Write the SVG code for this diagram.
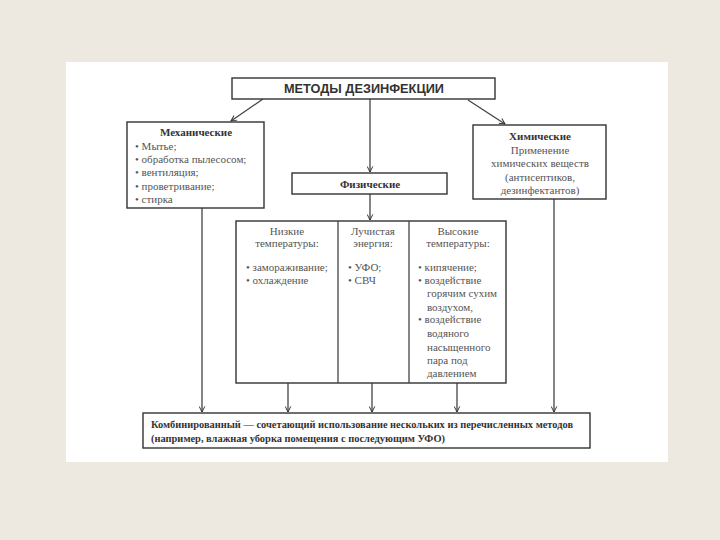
<svg xmlns="http://www.w3.org/2000/svg" width="720" height="540" viewBox="0 0 720 540">
<defs>
<marker id="ah" viewBox="0 0 10 10" refX="9" refY="5" markerWidth="7" markerHeight="7" orient="auto" markerUnits="userSpaceOnUse">
<path d="M1,1 L9,5 L1,9" fill="none" stroke="#333" stroke-width="1.4"/>
</marker>
</defs>
<style>
.box{fill:#fff;stroke:#333;stroke-width:1.4}
.ln{stroke:#444;stroke-width:1.3;fill:none}
.t{font-family:"Liberation Serif","DejaVu Serif",serif;font-size:11px;fill:#555}
.b{font-family:"Liberation Serif","DejaVu Serif",serif;font-size:11px;font-weight:bold;fill:#333}
.c{text-anchor:middle}
.h{font-family:"Liberation Sans",Arial,sans-serif;font-size:12.5px;font-weight:bold;fill:#333}
</style>
<rect x="0" y="0" width="720" height="540" fill="#ede9e0"/>
<rect x="66" y="62" width="602" height="400" fill="#fff"/>

<g id="connectors">
<line class="ln" x1="263" y1="99" x2="231" y2="121" marker-end="url(#ah)"/>
<line class="ln" x1="370" y1="99" x2="370" y2="172" marker-end="url(#ah)"/>
<line class="ln" x1="468" y1="100" x2="505" y2="124" marker-end="url(#ah)"/>
<line class="ln" x1="370" y1="194" x2="370" y2="220" marker-end="url(#ah)"/>
<line class="ln" x1="202" y1="208" x2="202" y2="412" marker-end="url(#ah)"/>
<line class="ln" x1="288" y1="383" x2="288" y2="412" marker-end="url(#ah)"/>
<line class="ln" x1="372" y1="383" x2="372" y2="412" marker-end="url(#ah)"/>
<line class="ln" x1="457" y1="383" x2="457" y2="412" marker-end="url(#ah)"/>
<line class="ln" x1="554" y1="199" x2="554" y2="412" marker-end="url(#ah)"/>
</g>

<g id="title">
<rect class="box" x="232" y="78" width="263" height="21"/>
<text class="h c" x="364" y="93" textLength="160" lengthAdjust="spacingAndGlyphs">МЕТОДЫ ДЕЗИНФЕКЦИИ</text>
</g>

<g id="mechanical">
<rect class="box" x="127" y="122" width="137" height="86"/>
<text class="b c" x="196" y="136">Механические</text>
<text class="t" x="135" y="150">• Мытье;</text>
<text class="t" x="135" y="163">• обработка пылесосом;</text>
<text class="t" x="135" y="176">• вентиляция;</text>
<text class="t" x="135" y="190">• проветривание;</text>
<text class="t" x="135" y="203">• стирка</text>
</g>

<g id="chemical">
<rect class="box" x="473" y="125" width="133" height="74"/>
<text class="b c" x="540" y="140">Химические</text>
<text class="t c" x="540" y="154">Применение</text>
<text class="t c" x="540" y="167">химических веществ</text>
<text class="t c" x="540" y="181">(антисептиков,</text>
<text class="t c" x="540" y="194">дезинфектантов)</text>
</g>

<g id="physical">
<rect class="box" x="292" y="173" width="155" height="21"/>
<text class="b c" x="370" y="188">Физические</text>
</g>

<g id="physical-types">
<rect class="box" x="236" y="221" width="270" height="162"/>
<line class="ln" x1="338" y1="221" x2="338" y2="383"/>
<line class="ln" x1="409" y1="221" x2="409" y2="383"/>
<text class="t c" x="287" y="235">Низкие</text>
<text class="t c" x="287" y="247">температуры:</text>
<text class="t" x="246" y="271">• замораживание;</text>
<text class="t" x="246" y="284">• охлаждение</text>
<text class="t c" x="373" y="235">Лучистая</text>
<text class="t c" x="373" y="247">энергия:</text>
<text class="t" x="348" y="271">• УФО;</text>
<text class="t" x="348" y="284">• СВЧ</text>
<text class="t c" x="458" y="235">Высокие</text>
<text class="t c" x="458" y="247">температуры:</text>
<text class="t" x="418" y="271">• кипячение;</text>
<text class="t" x="418" y="284">• воздействие</text>
<text class="t" x="427" y="297">горячим сухим</text>
<text class="t" x="427" y="311">воздухом,</text>
<text class="t" x="418" y="323">• воздействие</text>
<text class="t" x="427" y="337">водяного</text>
<text class="t" x="427" y="351">насыщенного</text>
<text class="t" x="427" y="364">пара под</text>
<text class="t" x="427" y="377">давлением</text>
</g>

<g id="combined">
<rect class="box" x="143" y="413" width="447" height="35"/>
<text class="b" x="151" y="428" font-size="10.5" textLength="422" lengthAdjust="spacingAndGlyphs">Комбинированный — сочетающий использование нескольких из перечисленных методов</text>
<text class="b" x="151" y="442" font-size="10.5" textLength="294" lengthAdjust="spacingAndGlyphs">(например, влажная уборка помещения с последующим УФО)</text>
</g>
</svg>
